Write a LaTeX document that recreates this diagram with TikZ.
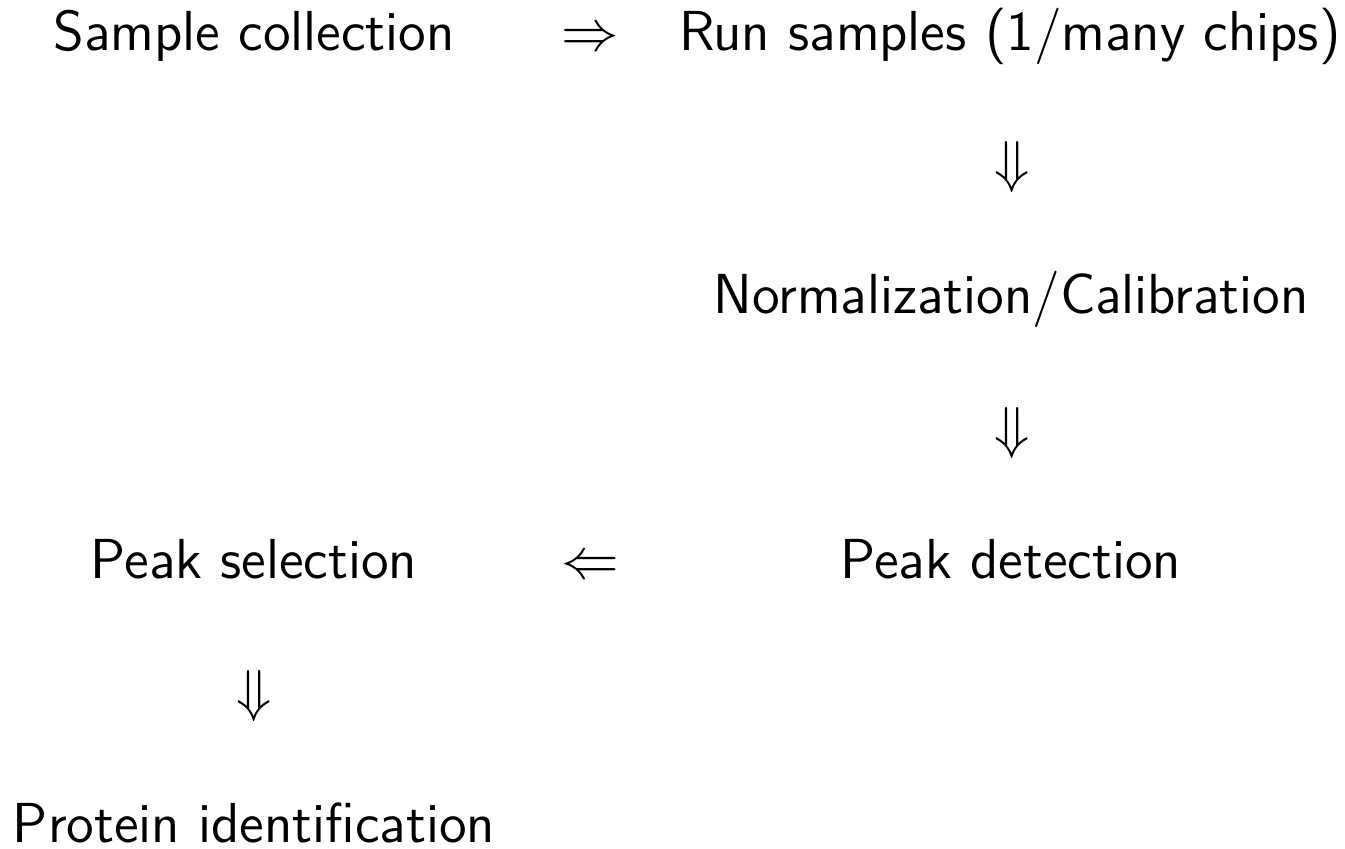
\documentclass[tikz,border=0pt]{standalone}
\usepackage{amsmath}
\renewcommand{\familydefault}{\sfdefault}
\begin{document}
\begin{tikzpicture}[x=0.25pt,y=-0.25pt,
  every node/.style={inner sep=0pt,outer sep=0pt,font=\fontsize{14.1}{17}\selectfont},
  step text/.style={anchor=base},
  side arrow/.style={anchor=base},
  down arrow/.style={anchor=center}]
\useasboundingbox (0,0) rectangle (1345,848);
% columns: left 254, middle 590, right 1011
% first row
\node[step text] (sample) at (254,50) {Sample collection};
\node[side arrow] (a1) at (590,50) {$\Rightarrow$};
\node[step text] (run) at (1010,50) {Run samples (1/many chips)};
\node[down arrow] (a2) at (1012,167) {$\Downarrow$};
% second row
\node[step text] (norm) at (1011,313) {Normalization/Calibration};
\node[down arrow] (a3) at (1012,433) {$\Downarrow$};
% third row
\node[step text] (detect) at (1011,578) {Peak detection};
\node[side arrow] (a4) at (590,578) {$\Leftarrow$};
\node[step text] (select) at (254,578) {Peak selection};
\node[down arrow] (a5) at (254,696) {$\Downarrow$};
% last row
\node[step text] (protein) at (254,842) {Protein identification};
\end{tikzpicture}
\end{document}
